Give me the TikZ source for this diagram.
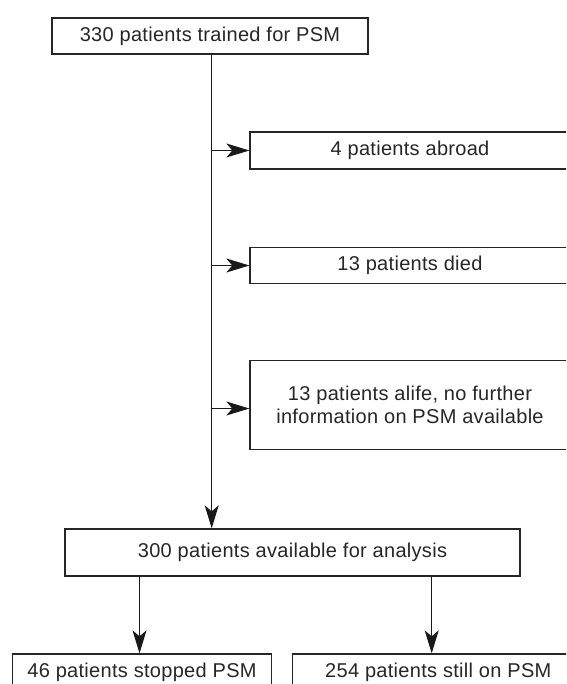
\documentclass[tikz,border=0pt]{standalone}
\usepackage{fontspec}
\setmainfont{Liberation Sans}[LetterSpace=1.5]
\usetikzlibrary{arrows.meta}
\tikzset{
  box/.style={draw=black!85, line width=1.3pt, inner sep=0pt, align=center,
    font=\fontsize{20pt}{23.4pt}\selectfont, text=black!85},
  arr/.style={draw=black!90, line width=1.1pt,
    -{Stealth[length=23pt,width=14pt,inset=6pt]}}
}
\begin{document}
\begin{tikzpicture}[x=1pt,y=-1pt]
\useasboundingbox (0,0) rectangle (566,684);
\clip (0,0) rectangle (566,684);
\node[box, minimum width=316pt, minimum height=36pt] (top) at (210,36) {330 patients trained for PSM};
\node[box, minimum width=320pt, minimum height=37pt] (abroad) at (410,150.5) {4 patients abroad};
\node[box, minimum width=320pt, minimum height=36pt] (died) at (410,265.5) {13 patients died};
\node[box, minimum width=320pt, minimum height=88.5pt] (alife) at (410,405) {13 patients alife, no further\\information on PSM available};
\node[box, minimum width=455pt, minimum height=47pt] (analysis) at (292.5,552.5) {300 patients available for analysis};
\node[box, minimum width=259.4pt, minimum height=37pt] (stopped) at (142,672.5) {46 patients stopped PSM};
\node[box, minimum width=291.3pt, minimum height=37pt] (still) at (438.3,672.5) {254 patients still on PSM};
\coordinate (trunk) at (211.7,54);
\coordinate (dl) at (139.5,576);
\coordinate (dr) at (431.7,576);
\draw[arr] (trunk) -- (trunk |- analysis.north);
\draw[arr] (trunk |- abroad.west) -- (abroad.west);
\draw[arr] (trunk |- died.west) -- (died.west);
\draw[arr] ([yshift=-3.5pt]trunk |- alife.west) -- ([yshift=-3.5pt]alife.west);
\draw[arr] (dl) -- (dl |- stopped.north);
\draw[arr] (dr) -- (dr |- still.north);
\end{tikzpicture}
\end{document}
